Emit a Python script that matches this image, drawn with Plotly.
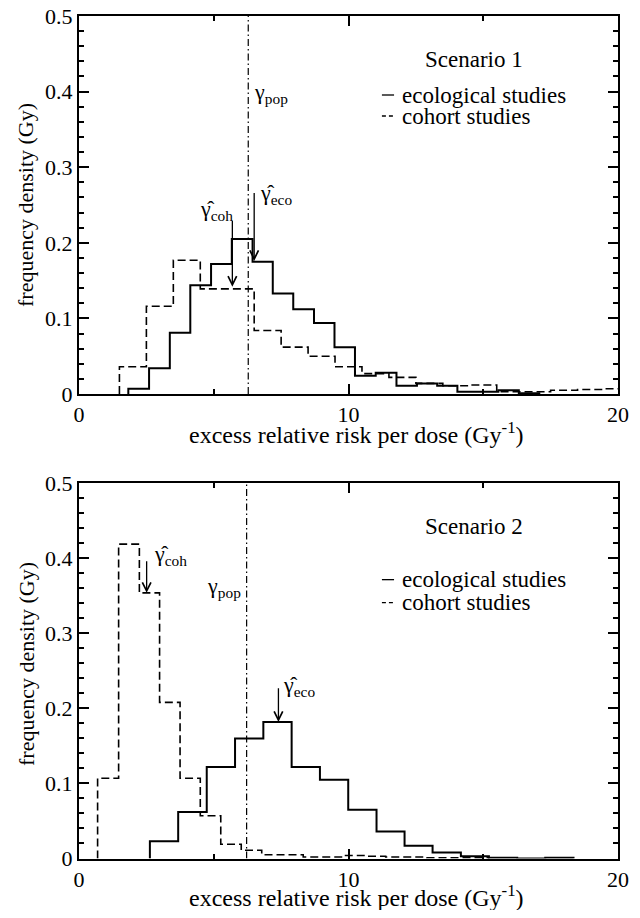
import plotly.graph_objects as go

# ---------------- data ----------------
# Scenario 1
s1_eco_edges = [1.83, 2.60, 3.37, 4.13, 4.90, 5.67, 6.44, 7.19, 7.95, 8.72, 9.48,
                10.24, 11.01, 11.78, 12.54, 13.29, 14.04, 14.80, 15.56, 16.32, 17.08]
s1_eco_vals = [0.007, 0.034, 0.081, 0.144, 0.172, 0.205, 0.175, 0.133, 0.112, 0.094,
               0.062, 0.024, 0.028, 0.011, 0.014, 0.011, 0.003, 0.003, 0.005, 0.001]
s1_coh_edges = [1.5, 2.5, 3.5, 4.5, 5.5, 6.5, 7.5, 8.5, 9.5, 10.5, 11.5, 12.5, 13.5,
                14.5, 15.5, 16.5, 17.5, 18.5, 19.5, 20.5]
s1_coh_vals = [0.036, 0.116, 0.177, 0.139, 0.139, 0.084, 0.062, 0.050, 0.036, 0.027,
               0.022, 0.014, 0.011, 0.012, 0.003, 0.003, 0.005, 0.006, 0.007]
s1_gamma_pop = 6.28
s1_gamma_coh = 5.69
s1_gamma_eco = 6.50

# Scenario 2
s2_eco_edges = [2.63, 3.68, 4.74, 5.79, 6.84, 7.89, 8.94, 9.99, 11.04, 12.08, 13.12,
                14.17, 15.21, 16.26, 17.30, 18.35]
s2_eco_vals = [0.023, 0.062, 0.122, 0.160, 0.182, 0.122, 0.105, 0.065, 0.036, 0.017,
               0.008, 0.003, 0.001, 0.0, 0.001]
s2_coh_edges = [0.69, 1.47, 2.24, 2.99, 3.75, 4.50, 5.26, 6.02, 6.78, 7.55, 8.32, 9.08,
                9.85, 10.61, 11.38, 12.14, 12.91, 13.67, 14.44, 15.20]
s2_coh_vals = [0.107, 0.419, 0.354, 0.208, 0.107, 0.057, 0.019, 0.011, 0.005, 0.005,
               0.002, 0.002, 0.004, 0.003, 0.002, 0.002, 0.001, 0.001, 0.001]
s2_gamma_pop = 6.22
s2_gamma_coh = 2.51
s2_gamma_eco = 7.40

x_tickvals = [0, 10, 20]
x_ticktext = ["0", "10", "20"]
y_tickvals = [0, 0.1, 0.2, 0.3, 0.4, 0.5]
y_ticktext = ["0", "0.1", "0.2", "0.3", "0.4", "0.5"]

FONT = "Liberation Serif"
OFF = 8                      # default page body margin
W, H = 640 - 2 * OFF, 918 - 2 * OFF


def px_x(p):
    return (p - OFF) / W


def px_y(p):
    return (H - (p - OFF)) / H


def step_xy(edges, vals):
    xs = [edges[0]] + list(edges) + [edges[-1]]
    ys = [0] + list(vals) + [vals[-1], 0]
    return xs, ys


fig = go.Figure()

panels = [
    dict(xa="x", ya="y", eco=(s1_eco_edges, s1_eco_vals), coh=(s1_coh_edges, s1_coh_vals),
         gpop=s1_gamma_pop, gcoh=s1_gamma_coh, geco=s1_gamma_eco, name="Scenario 1"),
    dict(xa="x2", ya="y2", eco=(s2_eco_edges, s2_eco_vals), coh=(s2_coh_edges, s2_coh_vals),
         gpop=s2_gamma_pop, gcoh=s2_gamma_coh, geco=s2_gamma_eco, name="Scenario 2"),
]

for p in panels:
    xs, ys = step_xy(*p["eco"])
    fig.add_trace(go.Scatter(x=xs, y=ys, mode="lines", line=dict(color="black", width=2, shape="hv"),
                             xaxis=p["xa"], yaxis=p["ya"], showlegend=False, hoverinfo="skip"))
    xs, ys = step_xy(*p["coh"])
    fig.add_trace(go.Scatter(x=xs, y=ys, mode="lines",
                             line=dict(color="black", width=1.6, shape="hv", dash="8px,4px"),
                             xaxis=p["xa"], yaxis=p["ya"], showlegend=False, hoverinfo="skip"))
    fig.add_trace(go.Scatter(x=[p["gpop"], p["gpop"]], y=[0, 0.5], mode="lines",
                             line=dict(color="black", width=1.2, dash="7px,3px,1.5px,3px"),
                             xaxis=p["xa"], yaxis=p["ya"], showlegend=False, hoverinfo="skip"))

# axes
ax_common = dict(showline=True, linewidth=2, linecolor="black", mirror="allticks",
                 ticks="inside", ticklen=10, tickwidth=1.5, tickcolor="black",
                 showgrid=False, zeroline=False, automargin=False, ticklabeloverflow="allow",
                 tickfont=dict(family=FONT, size=22, color="black"))
x_dom = [px_x(79), px_x(618)]
top_dom = [px_y(394), px_y(16)]
bot_dom = [px_y(858.5), px_y(483.3)]

xminor = dict(ticks="inside", ticklen=5, tickwidth=1.5, dtick=5, tickcolor="black", showgrid=False)
yminor = dict(ticks="inside", ticklen=5, tickwidth=1.5, dtick=0.02, tickcolor="black", showgrid=False)

fig.update_layout(
    width=W, height=H, margin=dict(l=0, r=0, t=0, b=0, pad=0, autoexpand=False),
    paper_bgcolor="white", plot_bgcolor="white", showlegend=False,
    font=dict(family=FONT, color="black"),
    xaxis=dict(domain=x_dom, range=[0, 20], anchor="y", tickvals=x_tickvals, ticktext=x_ticktext,
               minor=xminor, **ax_common),
    yaxis=dict(domain=top_dom, range=[0, 0.5], anchor="x", tickvals=y_tickvals, ticktext=y_ticktext,
               minor=yminor, **ax_common),
    xaxis2=dict(domain=x_dom, range=[0, 20], anchor="y2", tickvals=x_tickvals, ticktext=x_ticktext,
                minor=xminor, **ax_common),
    yaxis2=dict(domain=bot_dom, range=[0, 0.5], anchor="x2", tickvals=y_tickvals, ticktext=y_ticktext,
                minor=yminor, **ax_common),
)

tf = dict(family=FONT, size=22, color="black")
xtf = dict(family=FONT, size=24, color="black")
lf = dict(family=FONT, size=23, color="black")
sf = dict(family=FONT, size=23, color="black")
ann = []
shapes = []

# axis titles
for ycen in [px_y(433), px_y(896)]:
    ann.append(dict(x=px_x(356), y=ycen, xref="paper", yref="paper", showarrow=False,
                    text="excess relative risk per dose (Gy<sup>-1</sup>)", font=xtf,
                    xanchor="center", yanchor="middle"))
for ycen in [px_y(205), px_y(664)]:
    ann.append(dict(x=px_x(26), y=ycen, xref="paper", yref="paper", showarrow=False,
                    text="frequency density (Gy)", font=tf, textangle=-90,
                    xanchor="center", yanchor="middle"))

# per-panel annotations
label_pos = [
    dict(coh=(5.12, 0.243), eco=(7.31, 0.265), pop=(7.12, 0.398),
         coh_arrow=(0.231, 0.142), eco_arrow=(0.268, 0.176), leg=(0.3955, 0.3677)),
    dict(coh=(3.41, 0.404), eco=(8.16, 0.230), pop=(5.38, 0.362),
         coh_arrow=(0.398, 0.354), eco_arrow=(0.229, 0.182), leg=(0.3716, 0.341)),
]
for p, lp in zip(panels, label_pos):
    xr, yr = p["xa"], p["ya"]
    ann.append(dict(x=14.66, y=0.442, xref=xr, yref=yr, text=p["name"], showarrow=False, font=sf))
    ann.append(dict(x=lp["pop"][0], y=lp["pop"][1], xref=xr, yref=yr, showarrow=False,
                    text="γ<sub>pop</sub>", font=tf))
    ann.append(dict(x=lp["coh"][0], y=lp["coh"][1], xref=xr, yref=yr, showarrow=False,
                    text="γ\u0302<sub>coh</sub>", font=tf))
    ann.append(dict(x=lp["eco"][0], y=lp["eco"][1], xref=xr, yref=yr, showarrow=False,
                    text="γ\u0302<sub>eco</sub>", font=tf))
    for gx, (ytail, ytip) in [(p["gcoh"], lp["coh_arrow"]), (p["geco"], lp["eco_arrow"])]:
        ann.append(dict(x=gx, y=ytip, ax=gx, ay=ytail, xref=xr, yref=yr, axref=xr, ayref=yr,
                        text="", showarrow=True, arrowhead=5, arrowsize=1.3, arrowwidth=1.3,
                        arrowcolor="black"))
    # legend
    ly1, ly2 = lp["leg"]
    ann.append(dict(x=11.91, y=ly1, xref=xr, yref=yr, showarrow=False, text="ecological studies",
                    font=lf, xanchor="left"))
    ann.append(dict(x=11.91, y=ly2, xref=xr, yref=yr, showarrow=False, text="cohort studies",
                    font=lf, xanchor="left"))
    shapes.append(dict(type="line", xref=xr, yref=yr, x0=11.24, x1=11.69, y0=ly1, y1=ly1,
                       line=dict(color="black", width=1.3)))
    shapes.append(dict(type="line", xref=xr, yref=yr, x0=11.24, x1=11.69, y0=ly2, y1=ly2,
                       line=dict(color="black", width=1.3, dash="4px,3px")))

fig.update_layout(annotations=ann, shapes=shapes)
fig.write_html("out.html")
